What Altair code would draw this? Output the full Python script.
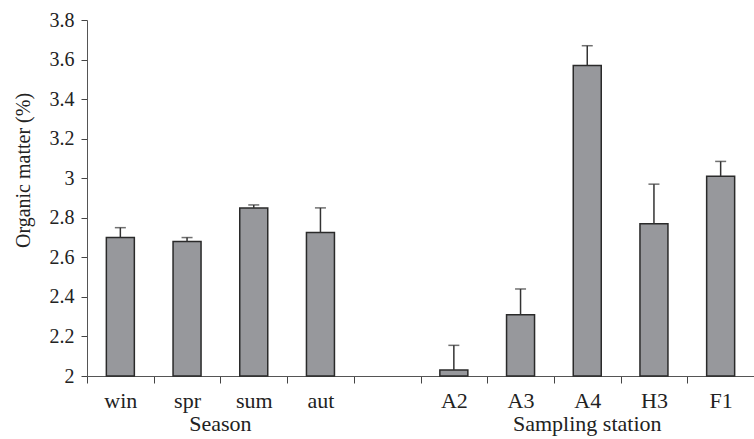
import altair as alt
import pandas as pd

# Organic matter by season and by sampling station
categories = ["win", "spr", "sum", "aut", "A2", "A3", "A4", "H3", "F1"]
means = [2.70, 2.68, 2.85, 2.725, 2.03, 2.31, 3.57, 2.77, 3.01]
errors = [0.05, 0.02, 0.015, 0.125, 0.125, 0.13, 0.10, 0.20, 0.075]

# axis order, with an empty slot separating the two groups
axis_order = ["win", "spr", "sum", "aut", " ", "A2", "A3", "A4", "H3", "F1"]
y_ticks = [2, 2.2, 2.4, 2.6, 2.8, 3, 3.2, 3.4, 3.6, 3.8]

group_titles = ["Season", "Sampling station"]
group_anchor = ["spr", "A4"]      # category the title sits on

df = pd.DataFrame({"cat": categories, "mean": means, "err": errors})
df["upper"] = df["mean"] + df["err"]
groups = pd.DataFrame({"title": group_titles, "cat": group_anchor})

FONT = "Liberation Serif"
INK = "#222222"
X_SIZE = 22
Y_SIZE = 20
TITLE_SIZE = 20

x_scale = alt.Scale(domain=axis_order, paddingInner=0, paddingOuter=0)
y_scale = alt.Scale(domain=[2, 3.8], nice=False, zero=False)

x_axis = alt.Axis(
    title=None, tickBand="extent", labelAngle=0, labelPadding=7, tickSize=7,
    labelBaseline="top", labelFontSize=X_SIZE,
)
y_axis = alt.Axis(
    title="Organic matter (%)", values=y_ticks, format="~g", labelPadding=7,
    tickSize=6, titleX=-54, titleY=150, titleAlign="center",
    labelFontSize=Y_SIZE, titleFontSize=TITLE_SIZE,
)

base = alt.Chart(df)

bars = base.mark_bar(size=28, color="#97989c", stroke="#2a2a2a", strokeWidth=1.5).encode(
    x=alt.X("cat:N", scale=x_scale, axis=x_axis, sort=None),
    y=alt.Y("mean:Q", scale=y_scale, axis=y_axis),
    y2=alt.datum(2),
)

whisker = base.mark_rule(color="#333333", strokeWidth=1.5).encode(
    x=alt.X("cat:N", scale=x_scale, axis=x_axis, sort=None),
    y=alt.Y("mean:Q", scale=y_scale, axis=y_axis),
    y2="upper:Q",
)

caps = base.mark_tick(color="#333333", size=11, thickness=1.5).encode(
    x=alt.X("cat:N", scale=x_scale, axis=x_axis, sort=None),
    y=alt.Y("upper:Q", scale=y_scale, axis=y_axis),
)

title_style = dict(font=FONT, fontSize=X_SIZE, color=INK, baseline="alphabetic", align="center")

# "Season" sits on the boundary between spr and sum; the station title on A4
season_title = alt.Chart(groups.iloc[[0]]).mark_text(**title_style).encode(
    x=alt.X("cat:N", scale=x_scale, axis=x_axis, sort=None, bandPosition=1.0),
    y=alt.value(411),
    text="title:N",
)
station_title = alt.Chart(groups.iloc[[1]]).mark_text(**title_style).encode(
    x=alt.X("cat:N", scale=x_scale, axis=x_axis, sort=None, bandPosition=0.5),
    y=alt.value(411),
    text="title:N",
)

chart = (
    alt.layer(bars, whisker, caps, season_title, station_title)
    .properties(
        width=667, height=356,
        autosize=alt.AutoSizeParams(type="none"),
        padding={"left": 87, "top": 20, "right": 0, "bottom": 63},
        background="white",
    )
    .configure_view(stroke=None)
    .configure_axis(
        labelFont=FONT, labelColor=INK, labelOverlap=False,
        titleFont=FONT, titleFontWeight="normal", titleColor=INK,
        tickColor="#444", domainColor="#555", grid=False,
    )
)

chart.save("out.html", embed_options={"renderer": "svg", "actions": False})
